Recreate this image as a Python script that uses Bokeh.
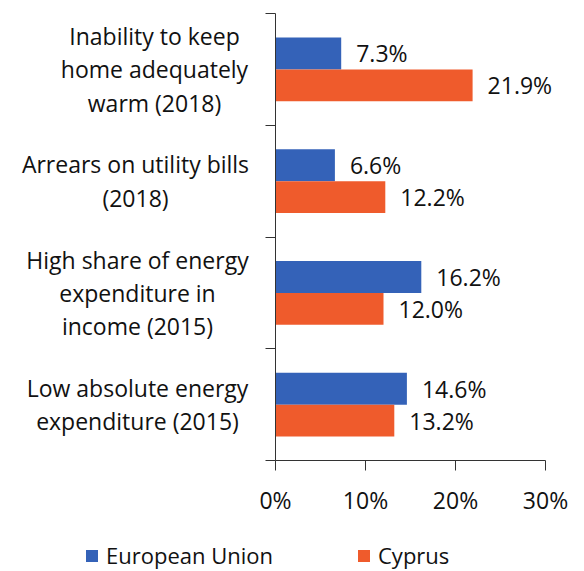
from bokeh.plotting import figure
from bokeh.models import ColumnDataSource, FixedTicker, Legend, LegendItem, Range1d
from bokeh.core.properties import value
from bokeh.embed import file_html
from bokeh.resources import INLINE

categories = [
    "Inability to keep\nhome adequately\nwarm (2018)",
    "Arrears on utility bills\n(2018)",
    "High share of energy\nexpenditure in\nincome (2015)",
    "Low absolute energy\nexpenditure (2015)",
]
eu_values = [7.3, 6.6, 16.2, 14.6]
cy_values = [21.9, 12.2, 12.0, 13.2]
series_names = ["European Union", "Cyprus"]
x_ticks = [0, 10, 20, 30]
x_tick_labels = ["0%", "10%", "20%", "30%"]

FONT = "Open Sans"
FS = "23px"
FS_LEG = "22px"
BLUE = "#3462B8"
ORANGE = "#EF5B2C"
TXT = "#111111"
AX = "#333333"

W, H = 584, 571
X0_PX, X30_PX = 275, 545      # pixel positions of 0% and 30%
YTOP_PX, YBOT_PX = 13, 460    # pixel positions of top / bottom of category axis

n = len(categories)
pxu_x = (X30_PX - X0_PX) / (x_ticks[-1] - x_ticks[0])
pxu_y = (YBOT_PX - YTOP_PX) / n
x_start = -X0_PX / pxu_x
x_end = x_ticks[-1] + (W - X30_PX) / pxu_x
y_end = n + YTOP_PX / pxu_y
y_start = -(H - YBOT_PX) / pxu_y

centers = [n - i - 0.5 for i in range(n)]
off = 16 / 112
bar_h = 32 / 112

eu_src = ColumnDataSource(dict(y=[c + off for c in centers], v=eu_values,
                               lab=[f"{v:.1f}%" for v in eu_values]))
cy_src = ColumnDataSource(dict(y=[c - off for c in centers], v=cy_values,
                               lab=[f"{v:.1f}%" for v in cy_values]))

p = figure(width=W, height=H, output_backend="svg", toolbar_location=None,
           x_range=Range1d(x_start, x_end), y_range=Range1d(y_start, y_end),
           min_border=0)
p.outline_line_color = None
p.xgrid.visible = False
p.ygrid.visible = False
p.background_fill_color = "white"
p.border_fill_color = "white"

r_eu = p.hbar(y="y", right="v", left=0, height=bar_h, source=eu_src,
              fill_color=BLUE, line_color=None)
r_cy = p.hbar(y="y", right="v", left=0, height=bar_h, source=cy_src,
              fill_color=ORANGE, line_color=None)

for src in (eu_src, cy_src):
    p.text(x="v", y="y", text="lab", source=src, x_offset=15,
           text_baseline="middle", text_align="left",
           text_font=value(FONT), text_font_size=FS, text_color=TXT)

# category labels
cat_offsets = [-121, -140, -138, -138]
for c, lab, xo in zip(centers, categories, cat_offsets):
    p.text(x=[0], y=[c], text=[lab], x_offset=xo, text_align="center",
           text_baseline="middle", text_font=value(FONT), text_font_size=FS,
           text_color=TXT, text_line_height=1.04)

# x axis
xa = p.xaxis[0]
xa.fixed_location = 0
xa.bounds = (x_ticks[0], x_ticks[-1])
xa.ticker = FixedTicker(ticks=x_ticks)
xa.major_label_overrides = {t: l for t, l in zip(x_ticks, x_tick_labels)}
xa.major_label_text_font = FONT
xa.major_label_text_font_size = FS
xa.major_label_text_color = TXT
xa.major_tick_out = 10
xa.major_tick_in = 0
xa.minor_tick_line_color = None
xa.axis_line_color = AX
xa.major_tick_line_color = AX
xa.major_label_standoff = 13

# y axis (boundaries)
ya = p.yaxis[0]
ya.fixed_location = 0
ya.bounds = (0, n)
ya.ticker = FixedTicker(ticks=list(range(n + 1)))
ya.major_label_overrides = {t: "" for t in range(n + 1)}
ya.major_tick_out = 10
ya.major_tick_in = 0
ya.minor_tick_line_color = None
ya.axis_line_color = AX
ya.major_tick_line_color = AX

legend = Legend(items=[LegendItem(label=series_names[0], renderers=[r_eu]),
                       LegendItem(label=series_names[1], renderers=[r_cy])],
                orientation="horizontal", location=(84, 1),
                glyph_width=15, glyph_height=15, label_standoff=7, spacing=83,
                padding=0, margin=0, border_line_color=None,
                background_fill_alpha=0,
                label_text_font=FONT, label_text_font_size=FS_LEG,
                label_text_color=TXT)
p.add_layout(legend, "center")

open("out.html", "w").write(file_html(p, INLINE))
